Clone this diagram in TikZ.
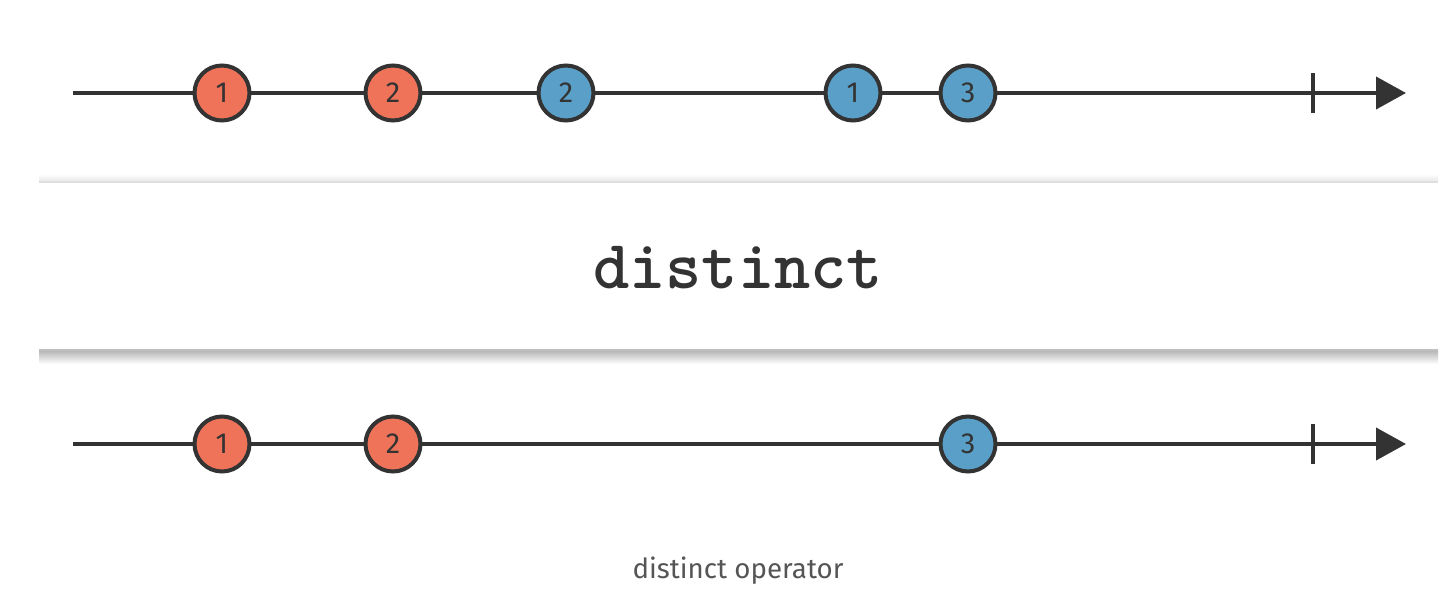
\documentclass[tikz,border=0pt]{standalone}
\usepackage{fontspec}
\setmainfont{Fira Sans}
\newfontfamily\monofont{lmmonolt10-bold.otf}
\usetikzlibrary{arrows.meta}
\definecolor{ink}{HTML}{333333}
\definecolor{redm}{HTML}{EE7359}
\definecolor{bluem}{HTML}{5A9FC7}
\definecolor{captc}{HTML}{555555}
\tikzset{
  timeline/.style={draw=ink, line width=4pt, -{Triangle[length=30pt,width=32pt]}},
  tickmark/.style={draw=ink, line width=3.5pt},
  marble/.style={circle, draw=ink, line width=4pt, minimum size=55pt, inner sep=0pt, text=ink, font=\fontsize{29}{29}\selectfont},
  redmarble/.style={marble, fill=redm},
  bluemarble/.style={marble, fill=bluem},
}
\begin{document}
\begin{tikzpicture}[x=1pt,y=-1pt]
\useasboundingbox (0,0) rectangle (1454,612);
\fill[white] (0,0) rectangle (1454,612);
% operator box
\shade[top color=white, bottom color=black!10] (39,174) rectangle (1438,182);
\shade[top color=black!30, bottom color=white] (39,350) rectangle (1438,364);
\fill[white] (39,182) rectangle (1438,350);
\draw[black!13, line width=1.5pt] (39,182) -- (1438,182);
\draw[black!25, line width=1.5pt] (39,350) -- (1438,350);
\node[text=ink, font=\monofont\fontsize{69}{69}\selectfont] (op) at (738,268) {distinct};
% top timeline
\coordinate (ts) at (73,93);
\coordinate (te) at (1406,93);
\draw[timeline] (ts) -- (te);
\coordinate (tt) at (1313,93);
\draw[tickmark] ([yshift=-20pt]tt) -- ([yshift=20pt]tt);
\node[redmarble] (a1) at (222,93) {1};
\node[redmarble] (a2) at (393,93) {2};
\node[bluemarble] (a3) at (566,93) {2};
\node[bluemarble] (a4) at (853,93) {1};
\node[bluemarble] (a5) at (968,93) {3};
% bottom timeline
\coordinate (bs) at (73,444);
\coordinate (be) at (1406,444);
\draw[timeline] (bs) -- (be);
\coordinate (bt) at (1313,444);
\draw[tickmark] ([yshift=-20pt]bt) -- ([yshift=20pt]bt);
\node[redmarble] (b1) at (222,444) {1};
\node[redmarble] (b2) at (393,444) {2};
\node[bluemarble] (b3) at (968,444) {3};
% caption
\node[text=captc, font=\fontsize{27.7}{27.7}\selectfont] (cap) at (738,571) {distinct operator};
\end{tikzpicture}
\end{document}
